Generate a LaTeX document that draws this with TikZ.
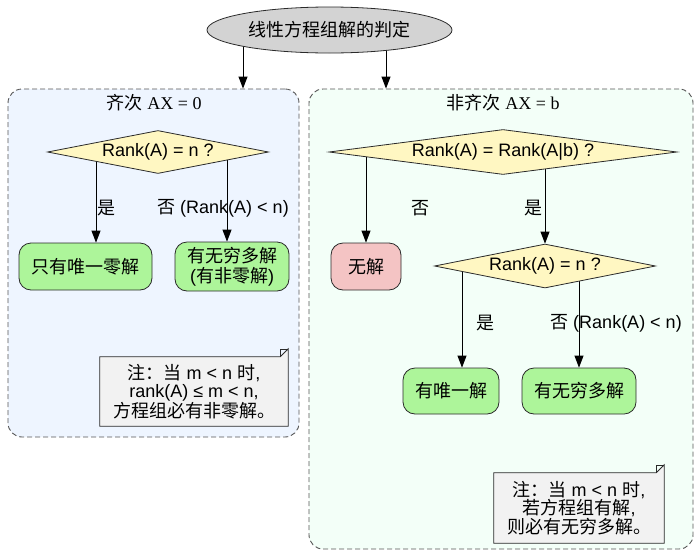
\documentclass[tikz,border=0pt]{standalone}
\usepackage{fontspec}
\setmainfont{Liberation Sans}
\newfontfamily\zh{Noto Sans CJK SC}
\newfontfamily\rmserif{Liberation Serif}
\usetikzlibrary{shapes.geometric,arrows.meta,backgrounds}
\definecolor{cAfill}{HTML}{EEF5FF}
\definecolor{cBfill}{HTML}{F3FFF8}
\definecolor{decfill}{HTML}{FFF7C2}
\definecolor{okfill}{HTML}{ADF59A}
\definecolor{badfill}{HTML}{F4C4C4}
\definecolor{notefill}{HTML}{F2F2F2}
\definecolor{topfill}{HTML}{D3D3D3}
\definecolor{edgecol}{HTML}{2A2A2A}
\begin{document}
\begin{tikzpicture}[x=1pt,y=-1pt,
  every node/.style={font=\fontsize{18}{20}\selectfont, inner sep=0pt, align=center},
  cluster/.style={draw=edgecol!80, dashed, dash pattern=on 5pt off 3pt, line width=0.9pt, rounded corners=14pt},
  decision/.style={diamond, draw=edgecol, line width=0.8pt, fill=decfill},
  result/.style={draw=edgecol, line width=0.8pt, rounded corners=12pt},
  notebox/.style={fill=notefill, draw=edgecol, line width=0.8pt},
  arr/.style={draw=black, line width=0.9pt, -{Triangle[length=12pt,width=9pt]}},
  lbl/.style={font=\fontsize{18}{20}\selectfont}
]
\useasboundingbox (0,0) rectangle (695,552);

\begin{scope}[on background layer]
  \node[cluster, fill=cAfill, minimum width=291, minimum height=348] (clA) at (153.5,263) {};
  \node[cluster, fill=cBfill, minimum width=384, minimum height=460] (clB) at (501,319) {};
\end{scope}

% titles
\node (tA) at (154,103) {{\zh 齐次} {\rmserif AX = 0}};
\node (tB) at (503,103) {{\zh 非齐次} {\rmserif AX = b}};

% top
\node[ellipse, draw=edgecol, line width=0.8pt, fill=topfill, minimum width=245, minimum height=46,
  font=\fontsize{18}{20}\selectfont] (top) at (329.5,30) {\zh 线性方程组解的判定};

% decisions
\node[decision, aspect=5, minimum width=221, minimum height=43] (d1) at (158,152) {Rank(A) = n ?};
\node[decision, aspect=8, minimum width=348, minimum height=45] (d2) at (503,152) {Rank(A) = Rank(A|b) ?};
\node[decision, aspect=5, minimum width=221, minimum height=44] (d3) at (545,266) {Rank(A) = n ?};

% results
\node[result, fill=okfill, minimum width=133, minimum height=47] (b1) at (85.5,266.5) {\zh 只有唯一零解};
\node[result, fill=okfill, minimum width=114, minimum height=49, font=\fontsize{18}{20}\selectfont] (b2) at (232,266.5) {{\zh 有无穷多解}\\({\zh 有非零解})};
\node[result, fill=badfill, minimum width=70, minimum height=47] (b3) at (366,266.5) {\zh 无解};
\node[result, fill=okfill, minimum width=96, minimum height=46] (b4) at (451,391) {\zh 有唯一解};
\node[result, fill=okfill, minimum width=114, minimum height=46] (b5) at (579,391) {\zh 有无穷多解};

% notes
\node[minimum width=188, minimum height=69, font=\fontsize{18}{18.5}\selectfont] (n1) at (194,391.5)
  {{\zh 注：当} m < n {\zh 时},\\rank(A) ≤ m < n,\\{\zh 方程组必有非零解。}};
\node[minimum width=170, minimum height=70, font=\fontsize{18}{18.5}\selectfont] (n2) at (579,508)
  {{\zh 注：当} m < n {\zh 时},\\{\zh 若方程组有解},\\{\zh 则必有无穷多解。}};

\begin{scope}[on background layer]
  % note shapes
  \foreach \n in {n1,n2}{
    \draw[notebox] (\n.north west) -- ([xshift=-8]\n.north east) -- ([yshift=8]\n.north east)
      -- (\n.south east) -- (\n.south west) -- cycle;
    \draw[draw=edgecol, line width=0.6pt] ([xshift=-8]\n.north east) |- ([yshift=8]\n.north east);
  }
  % edges
  \draw[arr] (top.center -| 243,0) -- (clA.north -| 243,0);
  \draw[arr] (top.center -| 386,0) -- (clB.north -| 386,0);
  \draw[arr] ([xshift=10.5]b1.north |- d1.center) -- ([xshift=10.5]b1.north);
  \draw[arr] ([xshift=-5]b2.north |- d1.center) -- ([xshift=-5]b2.north);
  \draw[arr] (b3.north |- d2.center) -- (b3.north);
  \draw[arr] (d3.north |- d2.center) -- (d3.north);
  \draw[arr] ([xshift=11]b4.north |- d3.center) -- ([xshift=11]b4.north);
  \draw[arr] (b5.north |- d3.center) -- (b5.north);
\end{scope}

% edge labels
\node[lbl] (l1) at (106,208) {\zh 是};
\node[lbl] (l2) at (223,208) {{\zh 否} (Rank(A) < n)};
\node[lbl] (l3) at (420,208) {\zh 否};
\node[lbl] (l4) at (533,208) {\zh 是};
\node[lbl] (l5) at (485,323) {\zh 是};
\node[lbl] (l6) at (616,323) {{\zh 否} (Rank(A) < n)};
\end{tikzpicture}
\end{document}
